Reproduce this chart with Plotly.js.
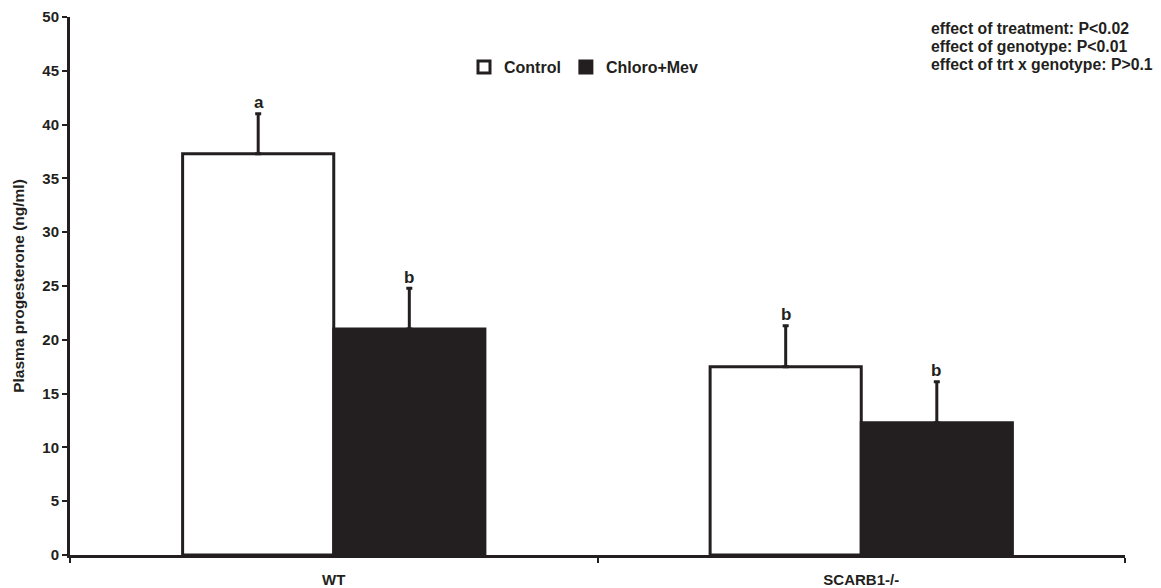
<!DOCTYPE html>
<html>
<head>
<meta charset="utf-8">
<script src="https://cdn.plot.ly/plotly-3.0.1.min.js"></script>
<style>html,body{margin:0;padding:0;background:#fff;}#chart{width:1161px;height:588px;}</style>
</head>
<body>
<div id="chart"></div>
<script>
const categories = ["WT", "SCARB1-/-"];
const seriesNames = ["Control", "Chloro+Mev"];
const controlValues = [37.3, 17.5];
const controlErrors = [3.7, 3.8];
const chloroValues = [21.0, 12.3];
const chloroErrors = [3.8, 3.8];
const controlLetters = ["a", "b"];
const chloroLetters = ["b", "b"];
const statsLines = ["effect of treatment: P<0.02", "effect of genotype: P<0.01", "effect of trt x genotype: P>0.1"];

const ink = "#231f20";
const fontFam = "Liberation Sans, Arial, sans-serif";

const W = 1161, H = 588, ML = 70, MR = 36, MT = 17, MB = 33;
const pw = W - ML - MR, ph = H - MT - MB;
const px2x = p => (p - ML) / pw;
const py2y = p => (H - MB - p) / ph;

function barTrace(name, vals, errs, fill) {
  return {
    type: "bar", name: name, x: categories, y: vals,
    marker: {color: fill, line: {color: ink, width: 3}},
    error_y: {type: "data", symmetric: false, array: errs, arrayminus: errs.map(() => 0),
              color: ink, thickness: 3, width: 3},
    hoverinfo: "none"
  };
}

const traces = [
  barTrace(seriesNames[0], controlValues, controlErrors, "#ffffff"),
  barTrace(seriesNames[1], chloroValues, chloroErrors, ink)
];

const annotations = [];
categories.forEach((c, i) => {
  annotations.push({x: c, y: controlValues[i] + controlErrors[i], xref: "x", yref: "y", text: "<b>" + controlLetters[i] + "</b>",
    showarrow: false, xshift: -75, yshift: 11, font: {family: fontFam, size: 17, color: ink}});
  annotations.push({x: c, y: chloroValues[i] + chloroErrors[i], xref: "x", yref: "y", text: "<b>" + chloroLetters[i] + "</b>",
    showarrow: false, xshift: 75, yshift: 11, font: {family: fontFam, size: 17, color: ink}});
});
const statsY = [29, 47, 65];
statsLines.forEach((s, i) => {
  annotations.push({x: px2x(929), y: py2y(statsY[i]), xref: "paper", yref: "paper", text: "<b>" + s + "</b>",
    showarrow: false, xanchor: "left", yanchor: "middle", align: "left",
    font: {family: fontFam, size: 15.8, color: ink}});
});

const layout = {
  width: W, height: H,
  margin: {l: ML, r: MR, t: MT, b: MB},
  paper_bgcolor: "#fff", plot_bgcolor: "#fff",
  barmode: "group", bargap: 0.427, bargroupgap: 0,
  showlegend: true,
  legend: {orientation: "h", x: px2x(464), y: py2y(67), xanchor: "left", yanchor: "middle",
    font: {family: fontFam, size: 16, color: ink, weight: "bold"}, itemwidth: 30, tracegroupgap: 0,
    bgcolor: "rgba(0,0,0,0)"},
  font: {family: fontFam, color: ink},
  xaxis: {
    showline: true, linecolor: ink, linewidth: 3, tickson: "boundaries", ticks: "outside", ticklen: 5,
    tickwidth: 2, tickcolor: ink, showgrid: false, zeroline: false,
    tickfont: {family: fontFam, size: 15, color: ink, weight: "bold"}, ticklabelstandoff: 9,
    range: [-0.5, 1.5]
  },
  yaxis: {
    range: [0, 50], dtick: 5, showline: true, linecolor: ink, linewidth: 3, ticks: "outside", ticklen: 5,
    tickwidth: 2, tickcolor: ink, showgrid: false, zeroline: false,
    tickfont: {family: fontFam, size: 15, color: ink, weight: "bold"},
    title: {text: "<b>Plasma progesterone (ng/ml)</b>", font: {family: fontFam, size: 15.5, color: ink}, standoff: 14}
  },
  annotations: annotations
};

Plotly.newPlot("chart", traces, layout, {displayModeBar: false, staticPlot: true});
</script>
</body>
</html>
